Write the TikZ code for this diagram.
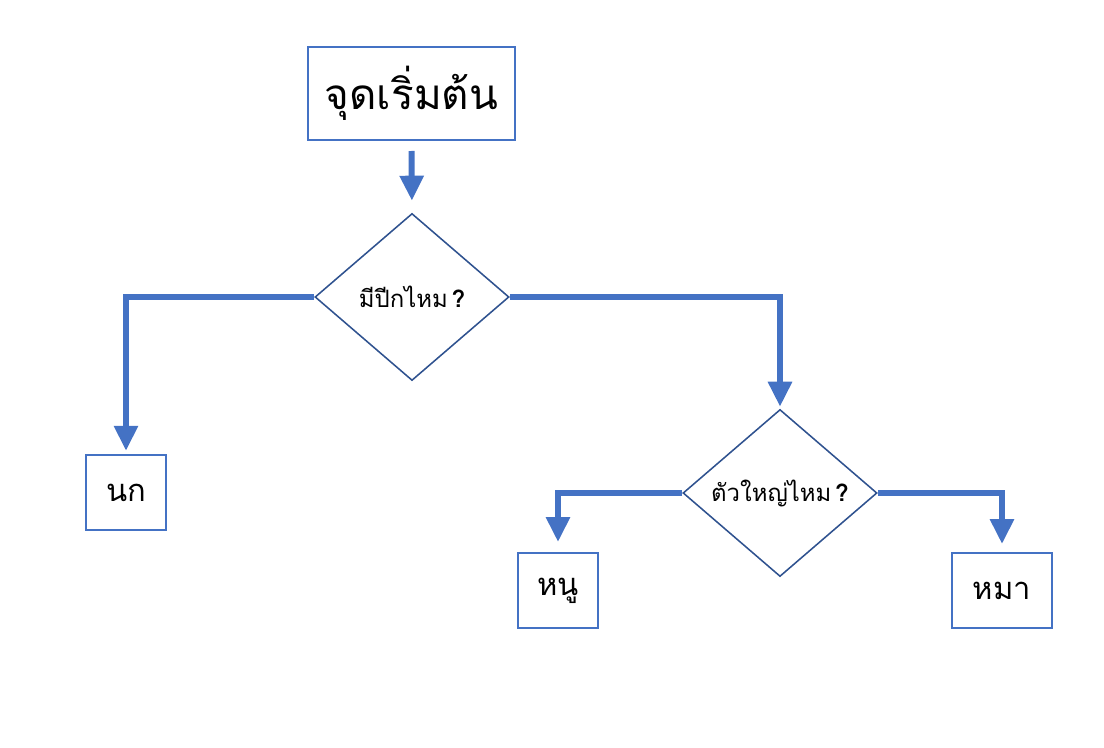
\documentclass[tikz,border=0pt]{standalone}
\usepackage{fontspec}
\usetikzlibrary{arrows.meta,shapes.geometric}
\newfontfamily\thaifont[Script=Thai]{Loma}
\definecolor{BoxBlue}{RGB}{68,114,196}
\definecolor{DiaBlue}{RGB}{47,82,143}
\newcommand{\ask}[1]{{\thaifont\fontsize{17}{20}\selectfont #1\,\textbf{?}}}

\begin{document}
\begin{tikzpicture}[x=0.025cm,y=-0.025cm,
  box/.style={draw=BoxBlue,line width=1.4pt,inner sep=0pt,
    font=\thaifont\fontsize{22}{26}\selectfont},
  choice/.style={diamond,draw=DiaBlue,line width=1.1pt,inner sep=0pt,
    minimum width=4.85cm,minimum height=4.175cm},
  flow/.style={BoxBlue,line width=0.15cm,
    -{Triangle[length=0.625cm,width=0.575cm]}}]
  \useasboundingbox (0,0) rectangle (1104,748);
  % boxes
  \node[box,minimum width=5.175cm,minimum height=2.325cm,
    font=\thaifont\fontsize{30}{34}\selectfont] (start) at (411.5,93.5) {จุดเริ่มต้น};
  \node[choice] (wing) at (412,297) {\ask{มีปีกไหม}};
  \node[choice] (big) at (780,493) {\ask{ตัวใหญ่ไหม}};
  \node[box,minimum width=2cm,minimum height=1.875cm] (bird) at (126,492.5) {นก};
  \node[box,minimum width=2cm,minimum height=1.875cm] (mouse) at (558,590.5) {หนู};
  \node[box,minimum width=2.5cm,minimum height=1.875cm] (dog) at (1002,590.5) {หมา};
  % connectors
  \draw[flow,shorten >=0.3cm] ([yshift=-0.25cm]start.south) -- (wing.north);
  \draw[flow,shorten >=0.08cm] (wing.west) -| (bird.north);
  \draw[flow,shorten >=0.05cm] (wing.east) -| (big.north);
  \draw[flow,shorten >=0.25cm] (big.west) -| (mouse.north);
  \draw[flow,shorten >=0.2cm] (big.east) -| (dog.north);
\end{tikzpicture}
\end{document}
